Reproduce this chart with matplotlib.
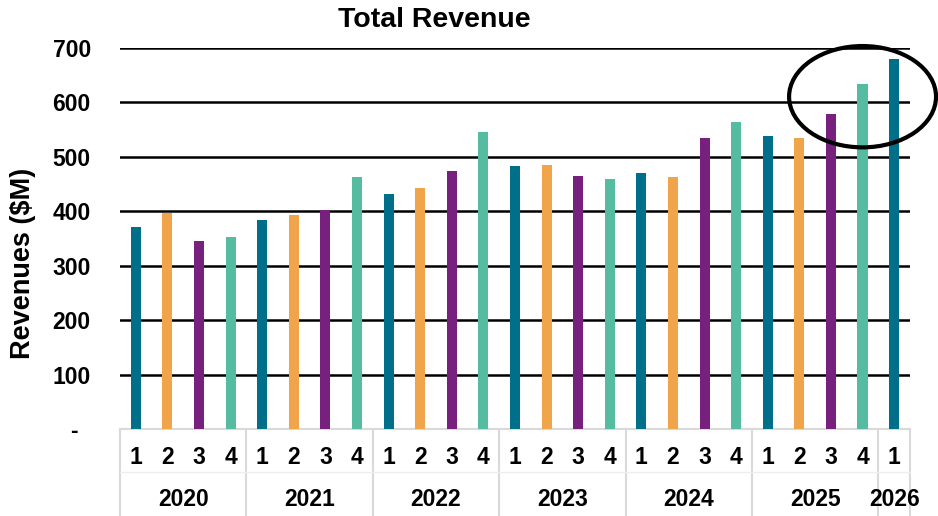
import matplotlib.pyplot as plt
from matplotlib.patches import Ellipse
import matplotlib.transforms as mtransforms

plt.rcParams['font.family'] = ['Liberation Sans', 'DejaVu Sans']
plt.rcParams['font.weight'] = 'bold'

# datos
years = ["2020", "2021", "2022", "2023", "2024", "2025", "2026"]
quarters = ["1", "2", "3", "4"] * 6 + ["1"]
revenue = [371, 397, 345, 353,
           384, 393, 402, 462,
           431, 442, 473, 545,
           482, 484, 464, 459,
           470, 462, 535, 563,
           537, 534, 578, 634,
           680]
quarter_colors = {"1": "#006F89", "2": "#F0A54A", "3": "#78207E", "4": "#55BCA1"}

fig = plt.figure(figsize=(9.38, 5.16), dpi=100)
ax = fig.add_axes([0.1279, 0.1686, 0.8422, 0.7390])

x = list(range(len(revenue)))
colors = [quarter_colors[q] for q in quarters]
ax.bar(x, revenue, width=0.32, color=colors, zorder=3)

ax.set_xlim(-0.5, len(revenue) - 0.5)
ax.set_ylim(0, 700)
ax.set_yticks(range(0, 701, 100))
ax.set_yticklabels(["-  "] + [str(v) for v in range(100, 701, 100)], fontsize=16.5, fontweight='bold')
ax.tick_params(axis='y', length=0, pad=21)
ax.set_xticks([])
for yv in range(100, 701, 100):
    ax.axhline(yv, color='black', lw=1.8, zorder=1)
for s in ['top', 'right', 'left']:
    ax.spines[s].set_visible(False)
ax.spines['bottom'].set_color('#D9D9D9')
ax.spines['bottom'].set_linewidth(1.5)

# etiquetas de categoria (trimestre y año)
trans = mtransforms.blended_transform_factory(ax.transData, ax.transAxes)
for i, q in enumerate(quarters):
    ax.text(i, -0.076, q, transform=trans, ha='center', va='center', fontsize=16.5, fontweight='bold')
starts = [0, 4, 8, 12, 16, 20, 24]
for k, yr in enumerate(years):
    end = starts[k + 1] if k + 1 < len(starts) else len(revenue)
    ax.text((starts[k] + end - 1) / 2, -0.186, yr, transform=trans, ha='center', va='center',
            fontsize=16.5, fontweight='bold')
bounds = starts + [len(revenue)]
for b in bounds:
    ax.plot([b - 0.5, b - 0.5], [0, -0.23], transform=trans, color='#D9D9D9', lw=1.5, clip_on=False)
ax.plot([-0.5, len(revenue) - 0.5], [-0.113, -0.113], transform=trans, color='#EEEEEE', lw=1, clip_on=False)

# circulo resaltando los ultimos trimestres
ell = Ellipse((23.0, 610), width=4.65, height=186, fill=False, edgecolor='black', lw=3,
              clip_on=False, zorder=5)
ax.add_patch(ell)

fig.text(0.463, 0.962, "Total Revenue", ha='center', va='center', fontsize=20.5, fontweight='bold')
fig.text(0.025, 0.49, "Revenues ($M)", rotation=90, ha='center', va='center', fontsize=19.5, fontweight='bold')

fig.savefig("out.png", dpi=100)
